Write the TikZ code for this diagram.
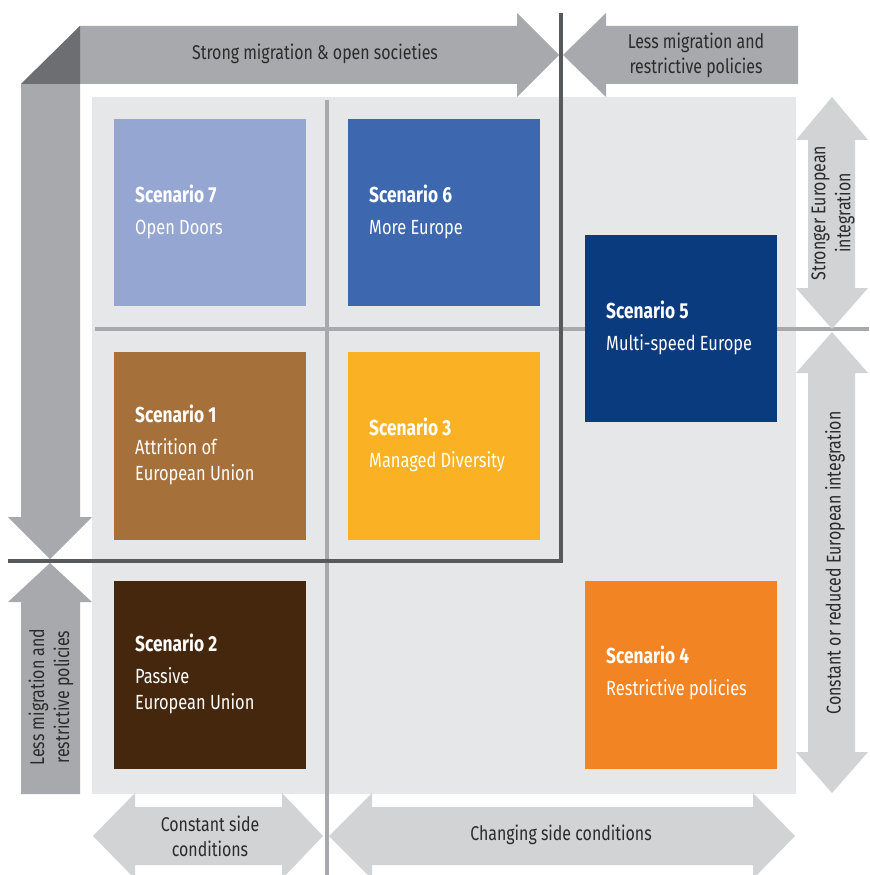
\documentclass[tikz,border=0pt]{standalone}
\usepackage{fontspec}
\setmainfont{Fira Sans}[FakeStretch=0.8]
\definecolor{panel}{HTML}{E6E7E8}
\definecolor{midgray}{HTML}{A7A9AC}
\definecolor{cornergray}{HTML}{6D6E71}
\definecolor{axisgray}{HTML}{58595B}
\definecolor{lightarrow}{HTML}{D1D3D4}
\definecolor{labelgray}{HTML}{2B2B2B}
\definecolor{scenone}{HTML}{A6703A}
\definecolor{scentwo}{HTML}{45270E}
\definecolor{scenthree}{HTML}{FAB224}
\definecolor{scenfour}{HTML}{F28424}
\definecolor{scenfive}{HTML}{0B3B7F}
\definecolor{scensix}{HTML}{3D67AF}
\definecolor{scenseven}{HTML}{95A6D3}
\newcommand{\scentitle}[1]{{\fontsize{18.5}{22}\selectfont\bfseries #1}}
\tikzset{
  arrowlabel/.style={text=labelgray, align=center, font=\fontsize{17}{21.5}\selectfont},
  scenlabel/.style={text=white, align=left, anchor=west, inner xsep=0pt, font=\fontsize{17.5}{22}\selectfont},
  axisline/.style={axisgray, line width=4*0.85pt},
  gridline/.style={midgray, line width=4*0.85pt},
}
\begin{document}
\begin{tikzpicture}[x=0.03cm,y=-0.03cm]
\useasboundingbox (0,0) rectangle (869,875);
\fill[panel] (92,97) rectangle (796,794);

% inner grid lines
\draw[gridline] (327,100) -- (327,875);
\draw[gridline] (95,329) -- (869,329);

% scenario boxes
\fill[scenseven] (114,119) rectangle (306,306);
\fill[scensix] (348,119) rectangle (540,306);
\fill[scenfive] (585,235) rectangle (777,422);
\fill[scenone] (114,352) rectangle (306,540);
\fill[scenthree] (348,352) rectangle (540,540);
\fill[scentwo] (114,581) rectangle (306,769);
\fill[scenfour] (585,581) rectangle (777,769);

\node[scenlabel] (s7) at (135,212) {\scentitle{Scenario 7}\\[5pt]Open Doors};
\node[scenlabel] (s6) at (369,212) {\scentitle{Scenario 6}\\[5pt]More Europe};
\node[scenlabel] (s5) at (606,328) {\scentitle{Scenario 5}\\[5pt]Multi-speed Europe};
\node[scenlabel] (s1) at (135,445) {\scentitle{Scenario 1}\\[5pt]Attrition of\\European Union};
\node[scenlabel] (s3) at (369,445) {\scentitle{Scenario 3}\\[5pt]Managed Diversity};
\node[scenlabel] (s2) at (135,674) {\scentitle{Scenario 2}\\[5pt]Passive\\European Union};
\node[scenlabel] (s4) at (606,673) {\scentitle{Scenario 4}\\[5pt]Restrictive policies};

% L-shaped arrow, top left
\fill[midgray] (80,26) -- (517,26) -- (517,13) -- (559,55) -- (517,97) -- (517,84) -- (80,84)
  -- (80,517) -- (92,517) -- (50,559) -- (8,517) -- (21,517) -- (21,84) -- cycle;
\fill[cornergray] (80,26) -- (80,84) -- (21,84) -- cycle;
\node[arrowlabel] (strong) at (315,54) {Strong migration \& open societies};

% top right arrow
\fill[midgray] (563,55) -- (606,13) -- (606,26) -- (798,26) -- (798,84) -- (606,84) -- (606,97) -- cycle;
\node[arrowlabel] (lesstop) at (696,55) {Less migration and\\restrictive policies};

% bottom left arrow
\fill[midgray] (50,563) -- (92,602) -- (80,602) -- (80,794) -- (21,794) -- (21,602) -- (8,602) -- cycle;
\node[arrowlabel, rotate=90] (lessleft) at (51,697) {Less migration and\\restrictive policies};

% dark axes
\draw[axisline] (561,13) -- (561,563);
\draw[axisline] (8,561) -- (563,561);

% bottom arrows
\fill[lightarrow] (93,836) -- (135,793) -- (135,807) -- (282,807) -- (282,793) -- (323,836)
  -- (282,879) -- (282,865) -- (135,865) -- (135,879) -- cycle;
\node[arrowlabel] (constside) at (210,836) {Constant side\\conditions};
\fill[lightarrow] (329,836) -- (372,793) -- (372,807) -- (753,807) -- (753,793) -- (795,836)
  -- (753,879) -- (753,865) -- (372,865) -- (372,879) -- cycle;
\node[arrowlabel] (changeside) at (561,835) {Changing side conditions};

% right arrows
\fill[lightarrow] (832,97) -- (868,140) -- (855,140) -- (855,288) -- (868,288) -- (832,329)
  -- (796,288) -- (808,288) -- (808,140) -- (796,140) -- cycle;
\node[arrowlabel, rotate=90] (stronger) at (833,213) {Stronger European\\integration};
\fill[lightarrow] (832,332) -- (868,373) -- (855,373) -- (855,752) -- (868,752) -- (832,793)
  -- (796,752) -- (808,752) -- (808,373) -- (796,373) -- cycle;
\node[arrowlabel, rotate=90] (reduced) at (835,563) {Constant or reduced European integration};
\end{tikzpicture}
\end{document}
